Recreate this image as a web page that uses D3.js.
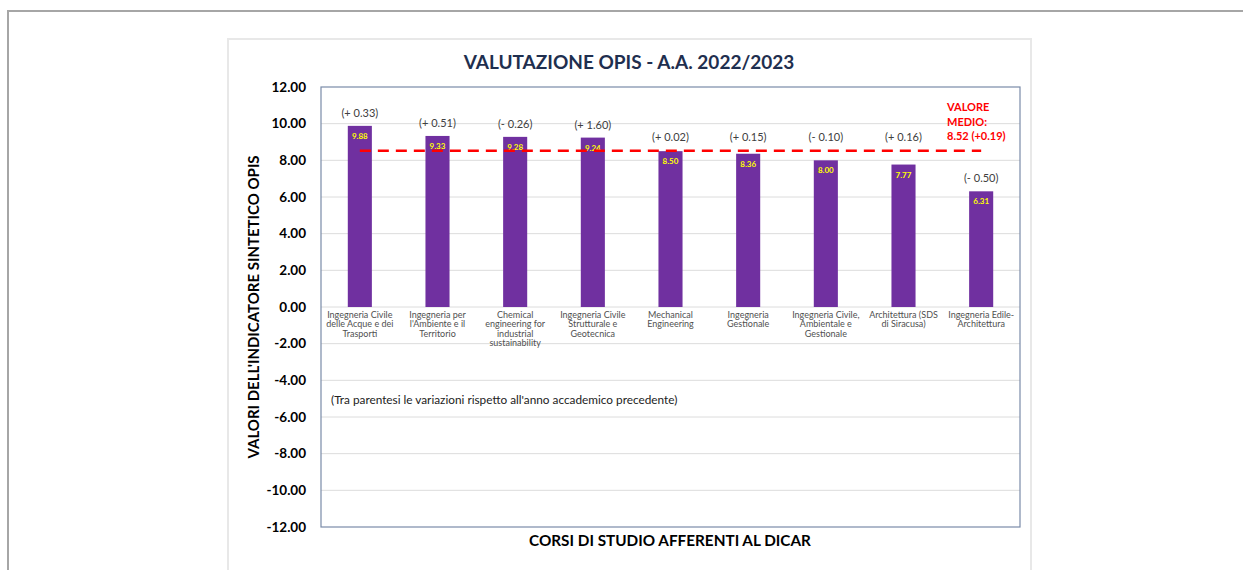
<!DOCTYPE html>
<html>
<head>
<meta charset="utf-8">
<script src="https://cdn.jsdelivr.net/npm/d3@7"></script>
<style>
  body { margin: 0; background: #fff; }
  svg { display: block; font-family: Lato, "Open Sans", sans-serif; }
</style>
</head>
<body>
<svg id="chart"></svg>
<script>
// data
const courses = [
  ["Ingegneria Civile", "delle Acque e dei", "Trasporti"],
  ["Ingegneria per", "l'Ambiente e il", "Territorio"],
  ["Chemical", "engineering for", "industrial", "sustainability"],
  ["Ingegneria Civile", "Strutturale e", "Geotecnica"],
  ["Mechanical", "Engineering"],
  ["Ingegneria", "Gestionale"],
  ["Ingegneria Civile,", "Ambientale e", "Gestionale"],
  ["Architettura (SDS", "di Siracusa)"],
  ["Ingegneria Edile-", "Architettura"]
];
const scores = [9.88, 9.33, 9.28, 9.24, 8.50, 8.36, 8.00, 7.77, 6.31];
const changes = [0.33, 0.51, -0.26, 1.60, 0.02, 0.15, -0.10, 0.16, -0.50];
const meanValue = 8.52;
const meanChange = 0.19;
const yTicks = [-12, -10, -8, -6, -4, -2, 0, 2, 4, 6, 8, 10, 12];

const width = 1243;
const height = 570;
const plot = { left: 321, right: 1020, top: 87, bottom: 527 };

const svg = d3.select('#chart').attr('width', width).attr('height', height);

// page frame + chart panel
svg.append('path')
  .attr('d', `M8,${height} V11 H${width}`)
  .attr('fill', 'none').attr('stroke', '#a6a6a6').attr('stroke-width', 2);
svg.append('path')
  .attr('d', `M228,${height} V39 H1031 V${height}`)
  .attr('fill', 'none').attr('stroke', '#e8e8e8').attr('stroke-width', 2);

const x = d3.scaleBand()
  .domain(d3.range(scores.length))
  .range([plot.left, plot.right])
  .paddingInner(0.69)
  .paddingOuter(0.345);

const y = d3.scaleLinear().domain([-12, 12]).range([plot.bottom, plot.top]);

// gridlines
svg.append('g').selectAll('line')
  .data(yTicks.filter(d => d > -12 && d < 12))
  .join('line')
  .attr('x1', plot.left).attr('x2', plot.right)
  .attr('y1', d => y(d)).attr('y2', d => y(d))
  .attr('stroke', '#dcdcdc').attr('stroke-width', 1);

// y axis labels (plain hyphen for negatives, like the original)
const yAxis = svg.append('g')
  .attr('transform', `translate(${plot.left - 15},0)`)
  .call(d3.axisLeft(y).tickValues(yTicks).tickFormat(d => d.toFixed(2)).tickSize(0).tickPadding(0));
yAxis.select('.domain').remove();
yAxis.selectAll('text')
  .attr('font-family', 'Lato, sans-serif')
  .attr('font-size', 13.5).attr('font-weight', 'bold').attr('fill', '#000');

// plot border
svg.append('rect')
  .attr('x', plot.left).attr('y', plot.top)
  .attr('width', plot.right - plot.left).attr('height', plot.bottom - plot.top)
  .attr('fill', 'none').attr('stroke', '#7a8ba8').attr('stroke-width', 1.2);

// bars
svg.append('g').selectAll('rect')
  .data(scores)
  .join('rect')
  .attr('x', (d, i) => x(i))
  .attr('y', d => y(d))
  .attr('width', x.bandwidth())
  .attr('height', d => y(0) - y(d))
  .attr('fill', '#7030a0');

// values inside bars
svg.append('g').selectAll('text')
  .data(scores)
  .join('text')
  .attr('x', (d, i) => x(i) + x.bandwidth() / 2)
  .attr('y', d => y(d) + 13)
  .attr('text-anchor', 'middle')
  .attr('font-size', 8).attr('font-weight', 'bold').attr('fill', '#ffff00')
  .text(d => d.toFixed(2));

// variations above bars; bars just under the mean line get their label lifted above it
const fmtChange = v => '(' + (v < 0 ? '- ' : '+ ') + Math.abs(v).toFixed(2) + ')';
const meanY = y(meanValue);
const labelTop = d => {
  const t = y(d);
  return (t >= meanY - 1 && t < meanY + 25) ? meanY - 1 : t;
};
svg.append('g').selectAll('text')
  .data(scores)
  .join('text')
  .attr('x', (d, i) => x(i) + x.bandwidth() / 2)
  .attr('y', d => labelTop(d) - 9)
  .attr('text-anchor', 'middle')
  .attr('font-size', 11).attr('fill', '#404040')
  .text((d, i) => fmtChange(changes[i]));

// mean line
svg.append('line')
  .attr('x1', x(0) + x.bandwidth() / 2)
  .attr('x2', x(scores.length - 1) + x.bandwidth() / 2)
  .attr('y1', meanY).attr('y2', meanY)
  .attr('stroke', '#ff0000').attr('stroke-width', 2.5)
  .attr('stroke-dasharray', '11 7');

const meanLabel = svg.append('text')
  .attr('x', 947).attr('y', 111)
  .attr('font-size', 11).attr('font-weight', 'bold').attr('fill', '#ff0000');
['VALORE', 'MEDIO:', meanValue.toFixed(2) + ' (+' + meanChange.toFixed(2) + ')'].forEach((t, i) => {
  meanLabel.append('tspan').attr('x', 947).attr('dy', i === 0 ? 0 : 14.5).text(t);
});

// category labels
const cat = svg.append('g').selectAll('text')
  .data(courses)
  .join('text')
  .attr('text-anchor', 'middle')
  .attr('font-size', 9).attr('fill', '#505050');
cat.each(function (lines, i) {
  const cx = x(i) + x.bandwidth() / 2;
  d3.select(this).selectAll('tspan')
    .data(lines)
    .join('tspan')
    .attr('x', cx)
    .attr('y', (d, j) => 318 + j * 9.4)
    .text(d => d);
});

// note
svg.append('text')
  .attr('x', 331).attr('y', 404)
  .attr('font-size', 11.8).attr('fill', '#222')
  .text("(Tra parentesi le variazioni rispetto all'anno accademico precedente)");

// titles
svg.append('text')
  .attr('x', 629).attr('y', 69)
  .attr('text-anchor', 'middle')
  .attr('font-size', 19).attr('font-weight', 'bold').attr('fill', '#1f2f4f')
  .text('VALUTAZIONE OPIS - A.A. 2022/2023');

svg.append('text')
  .attr('transform', `translate(259,${(plot.top + plot.bottom) / 2}) rotate(-90)`)
  .attr('text-anchor', 'middle')
  .attr('font-size', 15).attr('font-weight', 'bold').attr('fill', '#000')
  .text("VALORI DELL'INDICATORE SINTETICO OPIS");

svg.append('text')
  .attr('x', 670).attr('y', 546)
  .attr('text-anchor', 'middle')
  .attr('font-size', 15.3).attr('font-weight', 'bold').attr('fill', '#000')
  .text('CORSI DI STUDIO AFFERENTI AL DICAR');
</script>
</body>
</html>
